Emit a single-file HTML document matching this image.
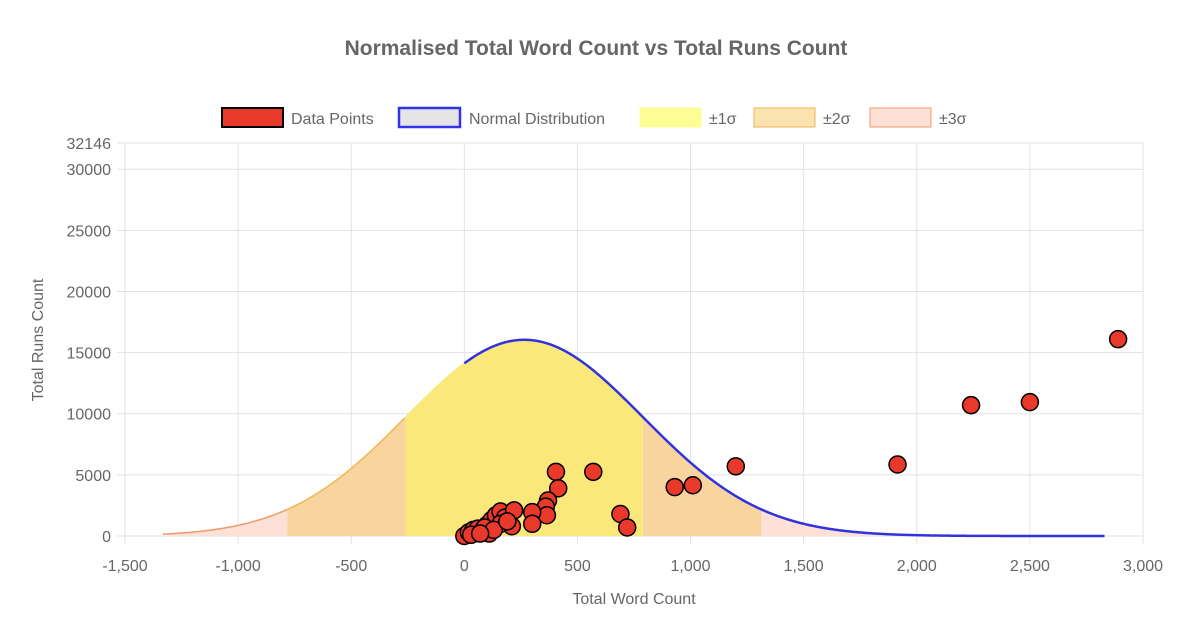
<!DOCTYPE html>
<html><head><meta charset="utf-8"><style>
body{margin:0;background:#fff;font-family:"Liberation Sans",sans-serif;}
svg text{font-family:"Liberation Sans",sans-serif;}
</style></head><body>
<svg id="c" width="1190" height="634" xmlns="http://www.w3.org/2000/svg">
<text x="596" y="55" text-anchor="middle" font-size="21" font-weight="bold" fill="#666">Normalised Total Word Count vs Total Runs Count</text>
<g id="legend" font-size="16" fill="#666">
 <g><rect x="222" y="108" width="61" height="19" fill="#e8392a" stroke="#000" stroke-width="2"/><text x="291" y="124">Data Points</text></g>
 <g><rect x="399" y="108" width="61" height="19" fill="#e5e5e5" stroke="#3333ee" stroke-width="2.5"/><text x="469" y="124">Normal Distribution</text></g>
 <g><rect x="640" y="108" width="61" height="19" fill="#fdfd96" stroke="#fdfd96"/><text x="709" y="124">±1σ</text></g>
 <g><rect x="754" y="108" width="61" height="19" fill="#fbe3b0" stroke="#f2b653"/><text x="823" y="124">±2σ</text></g>
 <g><rect x="870" y="108" width="61" height="19" fill="#fde0d6" stroke="#f0996b"/><text x="939" y="124">±3σ</text></g>
</g>
<g id="grid"></g><g id="bands"></g><g id="curve"></g><g id="pts"></g><g id="axes"></g>
<text transform="translate(43,340) rotate(-90)" text-anchor="middle" font-size="16" fill="#666">Total Runs Count</text>
<text x="634" y="604" text-anchor="middle" font-size="16" fill="#666">Total Word Count</text>
</svg>
<script>
const xTicks=[-1500,-1000,-500,0,500,1000,1500,2000,2500,3000];
const xTickLabels=["-1,500","-1,000","-500","0","500","1,000","1,500","2,000","2,500","3,000"];
const yTicks=[0,5000,10000,15000,20000,25000,30000,32146];
const mean=265, sigma=524, peak=16050, curveMin=-1333, curveMax=2830;
const wordCounts=[2890,2240,2500,1915,1200,1010,930,570,405,415,370,360,365,300,300,690,720,0,20,40,60,80,100,120,140,160,180,200,220,210,160,110,30,90,130,190,70];
const runCounts=[16100,10700,10950,5850,5700,4150,4000,5250,5250,3900,2900,2400,1700,1950,1000,1800,700,0,300,500,600,400,900,1300,1700,2000,1500,1000,2100,800,1000,200,100,700,500,1200,200];
const L=125,R=1143,T=143,B=536,xMin=-1500,xMax=3000,yMax=32146;
const X=v=>L+(v-xMin)/(xMax-xMin)*(R-L);
const Y=v=>B-v/yMax*(B-T);
const NS="http://www.w3.org/2000/svg";
function mk(tag,attrs,parent){const e=document.createElementNS(NS,tag);for(const k in attrs)e.setAttribute(k,attrs[k]);parent.appendChild(e);return e;}
const g=document.getElementById('grid'),ax=document.getElementById('axes');
xTicks.forEach((t,i)=>{const l=mk('line',{x1:X(t),x2:X(t),y1:T,y2:B+8,stroke:'#e2e2e2'},g);

const tx=mk('text',{x:X(t),y:B+35,'text-anchor':'middle','font-size':16,fill:'#666'},ax);tx.textContent=xTickLabels[i];
});
yTicks.forEach(t=>{const l=mk('line',{x1:L-8,x2:R,y1:Y(t),y2:Y(t),stroke:'#e2e2e2'},g);

const tx=mk('text',{x:L-14,y:Y(t)+6,'text-anchor':'end','font-size':16,fill:'#666'},ax);tx.textContent=t;
});
const f=x=>peak*Math.exp(-((x-mean)**2)/(2*sigma*sigma));
function area(a,b,fill,name){a=Math.max(a,curveMin);b=Math.min(b,curveMax);let d=`M${X(a)},${Y(0)}`;for(let x=a;x<=b;x+=5)d+=`L${X(x)},${Y(f(x))}`;d+=`L${X(b)},${Y(f(b))}L${X(b)},${Y(0)}Z`;
const p=mk('path',{d,fill},document.getElementById('bands'));}
area(mean-3*sigma,mean-2*sigma,'#fde0d6','band-3sigma-left');area(mean+2*sigma,mean+3*sigma,'#fde0d6','band-3sigma-right');
area(mean-2*sigma,mean-sigma,'#f8d49e','band-2sigma-left');area(mean+sigma,mean+2*sigma,'#f8d49e','band-2sigma-right');
area(mean-sigma,mean+sigma,'#fae87a','band-1sigma');
function line(a,b,color,name,w){let d='';for(let x=a;x<=b;x+=5)d+=(d?'L':'M')+X(x)+','+Y(f(x));
const p=mk('path',{d,fill:'none',stroke:color,'stroke-width':w},document.getElementById('curve'));}
line(curveMin,mean-2*sigma,'#f0996b','curve-edge-3sigma',1.5);line(mean-2*sigma,mean-sigma,'#f2b653','curve-edge-2sigma',1.5);line(mean-sigma,0,'#fae87a','curve-edge-1sigma',1.5);
line(0,curveMax,'#3333dd','normal-distribution-line',2.5);
const pg=document.getElementById('pts');
wordCounts.forEach((w,i)=>{const c=mk('circle',{cx:X(w),cy:Y(runCounts[i]),r:8.5,fill:'#e8392a',stroke:'#000','stroke-width':1.5},pg);
});
</script>
</body></html>
